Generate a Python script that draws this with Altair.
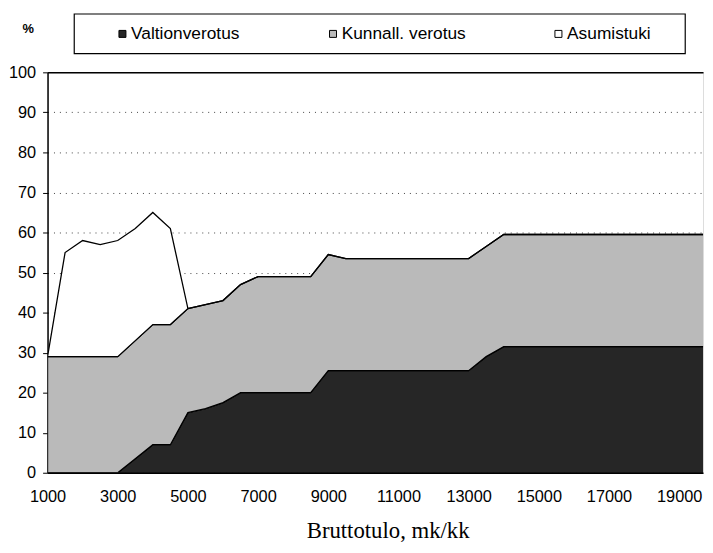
import altair as alt
import pandas as pd

# Gross income (mk/month)
tulo = [1000, 1500, 2000, 2500, 3000, 3500, 4000, 4500, 5000, 5500, 6000, 6500,
        7000, 7500, 8000, 8500, 9000, 9500, 10000, 10500, 11000, 11500, 12000,
        12500, 13000, 13500, 14000, 14500, 15000, 15500, 16000, 16500, 17000,
        17500, 18000, 18500, 19000, 19500, 20000]

# Shares in percent (stacked)
valtionverotus = [0, 0, 0, 0, 0, 3.5, 7, 7, 15, 16, 17.5, 20,
                  20, 20, 20, 20, 25.5, 25.5, 25.5, 25.5, 25.5, 25.5, 25.5,
                  25.5, 25.5, 29, 31.5, 31.5, 31.5, 31.5, 31.5, 31.5, 31.5,
                  31.5, 31.5, 31.5, 31.5, 31.5, 31.5]
kunnall_verotus = [29, 29, 29, 29, 29, 29.5, 30, 30, 26, 26, 25.5, 27,
                   29, 29, 29, 29, 29, 28, 28, 28, 28, 28, 28,
                   28, 28, 27.5, 28, 28, 28, 28, 28, 28, 28,
                   28, 28, 28, 28, 28, 28]
asumistuki = [0, 26, 29, 28, 29, 28, 28, 24, 0, 0, 0, 0,
              0, 0, 0, 0, 0, 0, 0, 0, 0, 0, 0,
              0, 0, 0, 0, 0, 0, 0, 0, 0, 0,
              0, 0, 0, 0, 0, 0]

series_names = ["Valtionverotus", "Kunnall. verotus", "Asumistuki"]
series_colors = ["#262626", "#bababa", "#ffffff"]
x_ticks = [1000, 3000, 5000, 7000, 9000, 11000, 13000, 15000, 17000, 19000]
y_ticks = [0, 10, 20, 30, 40, 50, 60, 70, 80, 90, 100]

rows = []
for idx, (name, vals) in enumerate(zip(series_names,
                                       [valtionverotus, kunnall_verotus, asumistuki])):
    for x, v in zip(tulo, vals):
        rows.append({"tulo": x, "osuus": v, "sarja": name, "jarj": idx})
df = pd.DataFrame(rows)

FONT = "Liberation Sans"

areas = alt.Chart(df).mark_area(
    stroke="black", strokeWidth=1.3, opacity=1, clip=True, interpolate="linear"
).encode(
    x=alt.X("tulo:Q",
            scale=alt.Scale(domain=[1000, 19680], nice=False, zero=False),
            axis=alt.Axis(values=x_ticks, format="d", grid=False, ticks=False,
                          labelFont=FONT, labelFontSize=16.5, labelColor="black",
                          labelPadding=16, labelFlush=False, labelOverlap=False,
                          domainColor="black", domainWidth=1.5,
                          title="Bruttotulo, mk/kk", titleFont="Liberation Serif",
                          titleFontSize=23, titleFontWeight="normal",
                          titleColor="black", titleX=344, titleY=65,
                          titleAlign="center", titleBaseline="alphabetic")),
    y=alt.Y("osuus:Q", stack="zero",
            scale=alt.Scale(domain=[0, 100], nice=False),
            axis=alt.Axis(values=y_ticks, grid=True,
                          gridColor={"condition": {"test": "datum.value === 100", "value": "black"}, "value": "#444444"},
                          gridDash={"condition": {"test": "datum.value === 100", "value": [1, 0]}, "value": [1, 5]},
                          gridWidth={"condition": {"test": "datum.value === 100", "value": 1.5}, "value": 1},
                          tickColor="black", tickSize=5, labelFont=FONT,
                          labelFontSize=16.5, labelColor="black", labelPadding=7,
                          domainColor="black", domainWidth=1.5,
                          title="%", titleAngle=0, titleFont=FONT, titleFontSize=13,
                          titleFontWeight="bold", titleColor="black",
                          titleX=-20, titleY=-40, titleAlign="center",
                          titleBaseline="alphabetic")),
    color=alt.Color("sarja:N",
                    scale=alt.Scale(domain=series_names, range=series_colors),
                    legend=alt.Legend(orient="none", legendX=67, legendY=-48,
                                      direction="horizontal", title=None,
                                      symbolType="square", symbolSize=50,
                                      symbolStrokeColor="black", symbolStrokeWidth=1,
                                      symbolOpacity=1, labelFont=FONT,
                                      labelFontSize=17.5, labelColor="black",
                                      labelOffset=0, columnPadding=85, padding=0)),
    order=alt.Order("jarj:Q", sort="ascending"),
)

legend_box = alt.Chart(pd.DataFrame({"k": [0]})).mark_rect(
    fill="white", stroke="black", strokeWidth=1.2
).encode(
    x=alt.value(27), x2=alt.value(645), y=alt.value(-59), y2=alt.value(-19)
)

chart = alt.layer(legend_box, areas).properties(
    width=663, height=405,
    padding={"left": 40, "top": 62, "right": 2, "bottom": 70},
    autosize=alt.AutoSizeParams(type="none"),
).configure_view(stroke=None).configure(background="white")

chart.save("out.html", embed_options={"renderer": "svg", "actions": False})
